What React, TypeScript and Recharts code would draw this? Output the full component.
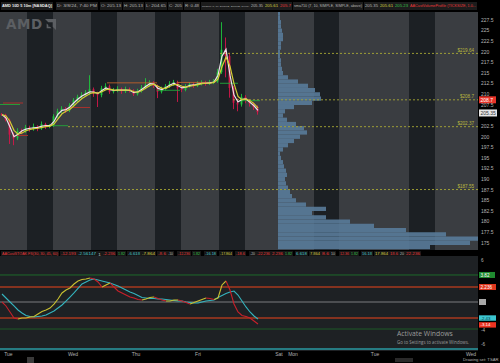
import React from 'react';
import { ComposedChart, Line, Bar, XAxis, YAxis, ReferenceArea, ReferenceLine } from 'recharts';

// ---------- time grid (session hours, 4px per unit) ----------
const barTimes: number[] = Array.from({ length: 65 }, (_, k) => 0.5 + k);

// ---------- price candles ----------
const opens = [205.4,205.2,204.0,200.5,199.6,201.4,201.2,202.2,201.8,202.4,201.9,203.0,202.4,202.6,204.8,206.0,206.6,206.2,207.4,208.6,209.4,209.9,210.4,211.2,210.2,209.8,211.4,211.9,210.6,210.9,211.3,210.7,211.2,210.9,210.0,210.8,211.6,212.3,212.8,212.0,210.6,211.2,211.9,212.5,212.9,211.4,211.0,211.9,212.4,212.0,212.6,212.8,212.6,212.9,213.0,215.2,220.5,219.0,211.5,208.0,207.6,209.4,208.6,207.8,207.0];
const closes = [205.2,204.0,200.5,199.6,201.4,201.2,202.2,201.8,202.4,201.9,203.0,202.4,202.6,204.8,206.0,206.6,206.2,207.4,208.6,209.4,209.9,210.4,211.2,210.2,209.8,211.4,211.9,210.6,210.9,211.3,210.7,211.2,210.9,210.0,210.8,211.6,212.3,212.8,212.0,210.6,211.2,211.9,212.5,212.9,211.4,211.0,211.9,212.4,212.0,212.6,212.8,212.6,212.9,213.0,215.2,220.5,219.0,211.5,208.0,207.6,209.4,208.6,207.8,207.0,205.8];
const highs = [205.6,205.4,204.3,201.0,202.0,201.9,202.8,202.6,203.1,202.7,203.6,203.3,203.0,205.3,206.6,207.2,207.0,207.9,209.1,209.9,210.5,211.0,214.5,211.6,210.6,212.0,212.6,212.3,211.5,211.9,211.6,211.8,211.6,211.2,211.3,212.2,213.8,213.3,213.1,212.3,211.8,212.4,213.1,213.4,213.2,211.8,212.4,212.9,212.8,213.1,213.3,213.2,213.4,213.6,216.0,227.0,223.4,219.8,212.0,209.0,210.1,209.8,208.9,208.1,207.4];
const lows = [204.9,203.6,198.3,198.0,199.2,200.6,200.9,201.2,201.4,201.3,201.6,201.8,202.0,202.3,204.4,205.6,205.6,205.8,207.0,208.2,209.1,209.6,209.8,209.4,207.0,209.3,211.0,210.1,210.2,210.5,210.1,210.3,210.4,209.6,209.7,210.4,211.2,211.8,211.5,209.1,210.2,210.9,211.5,212.0,208.2,210.5,210.7,211.6,211.5,211.7,212.1,212.0,212.2,212.4,212.7,214.8,214.0,209.2,206.5,206.0,207.1,207.9,207.1,206.3,205.2];
const smaFast = [205.2,204.4,202.3,200.0,200.6,201.4,201.8,202.0,202.1,202.2,202.5,202.6,202.6,203.6,205.3,206.2,206.4,207.0,208.0,208.9,209.6,210.1,210.6,210.5,210.2,210.9,211.5,211.1,210.9,211.0,211.0,211.0,210.9,210.4,210.6,211.2,211.9,212.5,212.4,211.4,211.1,211.6,212.2,212.6,212.0,211.5,211.7,212.1,212.2,212.4,212.6,212.6,212.7,212.9,214.5,219.0,220.6,214.5,209.8,208.2,208.8,208.9,208.1,207.3,206.2];
const smaSlow = [205.2,204.9,203.6,201.5,200.6,200.9,201.4,201.7,201.9,202.0,202.2,202.4,202.5,203.0,204.2,205.4,206.0,206.5,207.3,208.2,209.0,209.6,210.2,210.4,210.3,210.6,211.1,211.2,211.0,211.0,211.0,211.0,211.0,210.6,210.5,210.9,211.5,212.1,212.4,211.9,211.4,211.4,211.9,212.3,212.3,211.9,211.7,211.9,212.1,212.3,212.5,212.6,212.6,212.8,213.6,216.5,218.8,216.6,212.5,209.5,208.7,208.9,208.5,207.8,206.8];

// ---------- oscillator ----------
const oscFast = [0,-0.57,-1.43,-2.29,-2.43,-2.29,-2.29,-2.14,-2.07,-1.71,-1.36,-1.14,-0.86,-0.29,0.43,1.29,1.71,2.0,2.57,3.0,3.21,3.29,3.43,3.29,2.86,2.14,2.43,2.71,2.14,1.57,1.29,1.0,0.71,0.57,0.36,0.29,0.43,0.64,0.71,0.5,0.29,0.14,0.14,0.29,0.29,0.14,-0.07,-0.29,-0.07,0.14,0.36,0.57,0.5,0.36,0.57,2.43,3.0,1.71,-0.29,-1.43,-1.93,-2.07,-2.29,-2.71,-3.14];
const oscSlow = [1.14,0.57,0,-0.57,-1.14,-1.57,-1.93,-2.07,-2.14,-2.07,-2.0,-1.86,-1.57,-1.29,-0.86,-0.43,0.14,0.71,1.29,1.93,2.57,2.86,3.14,3.29,3.14,3.0,2.86,2.71,2.5,2.29,2.0,1.71,1.43,1.21,0.93,0.64,0.57,0.5,0.5,0.43,0.43,0.36,0.29,0.21,0.14,0.14,0,-0.07,-0.14,-0.14,0,0.14,0.21,0.29,0.64,0.93,1.21,1.43,1.57,1.0,0.14,-0.71,-1.43,-2.0,-2.43];

// ---------- volume profile (1-dollar bins, % of widest level) ----------
const profilePrices = [229,228,227,226,225,224,223,222,221,220,219,218,217,216,215,214,213,212,211,210,209,208,207,206,205,204,203,202,201,200,199,198,197,196,195,194,193,192,191,190,189,188,187,186,185,184,183,182,181,180,179,178,177,176,175,174];
const profileVols = [1,1,1.5,1.5,2,2.5,2.5,1.5,1.5,1,1,1.5,1.5,2,2.5,5,10,15,18.5,21,21.5,17,8,3.5,2.5,4.5,9,13,14.5,11,8,5,2.5,1,1.5,2.5,3,4,4.5,3.5,4,5,6,7,9,14,24,17,24,36,48,64,84,100,96,76];
const PROFILE_BASE = 69.5;   // session-hour where the profile is anchored
const PROFILE_SPAN = 50;     // session-hours covered by a 100% level

// ---------- sessions & ticks ----------
const sessionBounds = [0,6.75,13.25,22.75,29.25,38.75,45.25,54.75,61.25,78.5,84.75,102.25,108.75,119.5];
const priceTicks = [175,177.5,180,182.5,185,187.5,190,192.5,195,197.5,200,202.5,207.5,210,212.5,215,217.5,220,222.5,225,227.5];
const oscTicks = [6,-4,-6];
const dayTicks = [2.1,18.25,34,49.5,69.75,73.25,93.75,117.75];
const dayLabels = ['Tue','Wed','Thu','Fri','Sat','Mon','Tue','Wed'];

// levels
const dashedLevels = [219.64, 208.7, 202.37, 187.55];
const dashedLabels = ['$219.64', '$208.7', '$202.37', '$187.55'];
const dashedStarts = [55, 58.25, 17, 0];

const markerLevels = [207.6, 207.95, 200.3, 202.6, 206.9, 212.7, 210.95, 212.8, 212.6, 208.5];
const markerFrom = [0, 0.75, 3.5, 12.5, 17, 26.75, 39.25, 44.25, 55, 60];
const markerTo = [5, 5.75, 7, 17, 22.5, 39.25, 45, 53.25, 59.5, 65];
const markerKinds = ['g', 'r', 'r', 'g', 'r', 'o', 'g', 'o', 'g', 'g'];

// header texts
const topHeader = ['AMD 10D 5 10m [NASDAQ]','D: 3/8/24, 7:40 PM','O: 205.13','H: 205.13','L: 204.65','C: 205','R: 0.48','sma710 (7, 10, SIMPLE, SIMPLE, below)','205.35','205.61','205.7','sma710 (7, 10, SIMPLE, SIMPLE, above)','205.35','205.61','205.23','AACustVolumeProfile (TICKSIZE, 1.0...'];
const topHeaderKinds = ['w','n','n','n','n','n','n','n','n','y','r','n','n','y','g','r'];
const topHeaderFrom = [2,57,101,124,146,169,185,202,251,265,280,294,365,380,395,410];
const topHeaderTo = [52,97,121,143,166,182,199,249,263,278,291,362,378,393,408,476];

const lowHeader = ['AACustSTOAK FS(30, 30, 45, 60)','-12.193','-2.56147','1','-2.236','1.82','-6.618','-7.864','-8.6','-10','-12.236','1.82','-16.18','-17.864','-18.6','-20','-22.236','2.236','1.82','6.618','7.864','8.6','10','12.36','1.82','16.18','17.864','18.6','20','22.236'];
const lowHeaderKinds = ['r','r','c','n','r','g','c','y','r','n','r','g','c','y','r','n','r','r','g','c','y','r','n','r','g','c','y','r','n','r'];
const lowHeaderFrom = [2,61,78,98,103,118,128,142,158,168,178,193,205,220,236,250,257,272,285,296,310,322,331,340,351,362,375,390,400,406];
const lowHeaderTo = [58,76,96,101,115,125,140,155,166,173,190,200,216,232,245,255,270,283,292,307,320,329,335,349,358,372,388,398,404,420];

const COL: Record<string, string> = {
  w: '#ededed', n: '#b8b8b8', y: '#d8d040', r: '#e8383a', g: '#35c04a', c: '#45c8d2', o: '#c8642a',
};
const MARK: Record<string, string> = { g: '#23a83a', r: '#b8302a', o: '#c0602a' };

const FONT = '"Liberation Sans", "DejaVu Sans", Arial, sans-serif';

const priceData = barTimes.map((t, i) => ({
  t,
  o: opens[i],
  h: highs[i],
  l: lows[i],
  c: closes[i],
  range: [lows[i], highs[i]],
  fast: smaFast[i],
  slow: smaSlow[i],
}));

const oscData = barTimes.map((t, i) => {
  const prevUp = i > 0 && oscFast[i] >= oscFast[i - 1];
  const nextUp = i < oscFast.length - 1 && oscFast[i + 1] >= oscFast[i];
  const prevDn = i > 0 && oscFast[i] < oscFast[i - 1];
  const nextDn = i < oscFast.length - 1 && oscFast[i + 1] < oscFast[i];
  return {
    t,
    slow: oscSlow[i],
    up: prevUp || nextUp ? oscFast[i] : null,
    dn: prevDn || nextDn ? oscFast[i] : null,
  };
});

const Candle = (props: any) => {
  const { x, y, width, height, payload } = props;
  if (x == null || y == null || !payload) return null;
  const top = Math.min(y, y + height);
  const h = Math.abs(height);
  const span = payload.h - payload.l || 1;
  const yOf = (v: number) => top + ((payload.h - v) / span) * h;
  const cx = x + width / 2;
  const up = payload.c >= payload.o;
  const col = up ? '#1ec43c' : '#d4164a';
  const b1 = yOf(Math.max(payload.o, payload.c));
  const b2 = yOf(Math.min(payload.o, payload.c));
  return (
    <g>
      <line x1={cx} x2={cx} y1={top} y2={top + h} stroke={col} strokeWidth={0.9} />
      <rect x={cx - 0.9} y={b1} width={1.8} height={Math.max(0.8, b2 - b1)} fill={col} />
    </g>
  );
};

const AxisBox = (props: any) => {
  const { viewBox, text, bg, color, w, bh, fs } = props;
  if (!viewBox) return null;
  const x = viewBox.x + viewBox.width + 1;
  const y = viewBox.y;
  const hh = bh || 7;
  const f = fs || 5;
  return (
    <g>
      <rect x={x} y={y - hh / 2} width={w || 18} height={hh} fill={bg} />
      {text ? <text x={x + 1.5} y={y + f * 0.36} fontSize={f} fill={color} fontFamily={FONT}>{text}</text> : null}
    </g>
  );
};

const LevelLabel = (props: any) => {
  const { viewBox, text } = props;
  if (!viewBox) return null;
  return (
    <text x={viewBox.x + viewBox.width - 4} y={viewBox.y - 1.5} fontSize={4.6} fill="#b8b640" textAnchor="end" fontFamily={FONT}>{text}</text>
  );
};

const HeaderRow = ({ texts, kinds, from, to, top, h, fs, bg }: any) => (
  <svg width={500} height={h + 2} style={{ position: 'absolute', left: 0, top }}>
    {texts.map((s: string, i: number) => {
      const w = to[i] - from[i];
      const size = Math.min(fs, w / (s.length * 0.58));
      return (
        <g key={i}>
          <rect x={from[i] - 1} y={1} width={w + 2} height={h} fill={bg} />
          <text x={from[i]} y={1 + h / 2 + size * 0.36} fontSize={size} fill={COL[kinds[i]]} fontFamily={FONT} fontWeight={i === 0 && kinds[i] === 'w' ? 700 : 400} textLength={w} lengthAdjust="spacingAndGlyphs">{s}</text>
        </g>
      );
    })}
  </svg>
);

const stripes = sessionBounds.slice(0, -1).map((s, i) => ({ x1: s, x2: sessionBounds[i + 1], dark: i % 2 === 1 }));

export default function App() {
  return (
    <div style={{ position: 'fixed', left: 0, top: 0, width: 500, height: 363, background: '#000', overflow: 'hidden', fontFamily: FONT }}>
      <HeaderRow texts={topHeader} kinds={topHeaderKinds} from={topHeaderFrom} to={topHeaderTo} top={1} h={8} fs={5} bg="#1c1c1c" />

      {/* price pane */}
      <div style={{ position: 'absolute', left: 0, top: 12 }}>
        <ComposedChart width={500} height={238} data={priceData} margin={{ top: 0, right: 0, bottom: 0, left: 0 }}>
          <XAxis type="number" dataKey="t" domain={[0, 119.5]} hide allowDataOverflow />
          <YAxis orientation="right" type="number" domain={[173.3, 229.4]} ticks={priceTicks} width={22} tick={{ fill: '#b4b4b4', fontSize: 5, fontFamily: FONT }} tickLine={false} axisLine={false} tickSize={0} tickMargin={3} allowDataOverflow interval={0} />
          {stripes.map((s, i) => (
            <ReferenceArea key={'st' + i} x1={s.x1} x2={s.x2} fill={s.dark ? '#1c2024' : '#3a3d41'} fillOpacity={1} stroke="none" ifOverflow="hidden" />
          ))}
          {profilePrices.map((p, i) => (
            <ReferenceArea key={'vp' + i} x1={PROFILE_BASE} x2={PROFILE_BASE + (profileVols[i] / 100) * PROFILE_SPAN} y1={p - 0.5} y2={p + 0.5} fill="#587a98" fillOpacity={0.92} stroke="none" ifOverflow="hidden" />
          ))}
          {dashedLevels.map((v, i) => (
            <ReferenceLine key={'dl' + i} segment={[{ x: dashedStarts[i], y: v }, { x: 119.5, y: v }]} stroke="#a8a834" strokeDasharray="2 2" strokeWidth={0.9} label={<LevelLabel text={dashedLabels[i]} />} ifOverflow="hidden" />
          ))}
          {markerLevels.map((v, i) => (
            <ReferenceLine key={'mk' + i} segment={[{ x: markerFrom[i], y: v }, { x: markerTo[i], y: v }]} stroke={MARK[markerKinds[i]]} strokeWidth={0.9} ifOverflow="hidden" />
          ))}
          <Bar dataKey="range" barSize={3} isAnimationActive={false} shape={(p: any) => <Candle {...p} />} />
          <Line dataKey="fast" stroke="#efe2ea" strokeWidth={1.2} dot={false} isAnimationActive={false} />
          <Line dataKey="slow" stroke="#d2cc34" strokeWidth={1.2} dot={false} isAnimationActive={false} />
          <ReferenceLine y={208.7} stroke="none" ifOverflow="visible" label={<AxisBox text="208.7" bg="#e8342a" color="#ffffff" w={17} />} />
          <ReferenceLine y={205.6} stroke="none" ifOverflow="visible" label={<AxisBox text="205.35" bg="#e6e6e6" color="#333" w={18} />} />
        </ComposedChart>
      </div>

      {/* AMD watermark */}
      <div style={{ position: 'absolute', left: 6, top: 16, fontSize: 13.5, fontWeight: 700, color: '#5c5f63', letterSpacing: 0.5, pointerEvents: 'none', fontFamily: '"DejaVu Sans", sans-serif' }}>
        AMD
        <svg width={11} height={11} viewBox="0 0 10 10" style={{ marginLeft: 2, verticalAlign: '-1px' }}>
          <path d="M0 0 H10 V10 L7 7 V3 H3 Z M1.5 4 L3 5.5 V7 H4.5 L6 8.5 H1.5 Z" fill="#5c5f63" />
        </svg>
      </div>

      <HeaderRow texts={lowHeader} kinds={lowHeaderKinds} from={lowHeaderFrom} to={lowHeaderTo} top={250} h={6} fs={4.4} bg="#171717" />

      {/* oscillator pane */}
      <div style={{ position: 'absolute', left: 0, top: 256 }}>
        <ComposedChart width={500} height={107} data={oscData} margin={{ top: 0, right: 0, bottom: 0, left: 0 }}>
          <XAxis type="number" dataKey="t" domain={[0, 119.5]} ticks={dayTicks} interval={0} tickFormatter={(v: number) => dayLabels[dayTicks.indexOf(v)] || ''} height={12} tick={{ fill: '#b0b0b0', fontSize: 5, fontFamily: FONT }} tickLine={false} axisLine={false} tickSize={0} tickMargin={1} allowDataOverflow />
          <YAxis orientation="right" type="number" domain={[-7, 6.57]} ticks={oscTicks} interval={0} width={22} tick={{ fill: '#b4b4b4', fontSize: 4.6, fontFamily: FONT }} tickLine={false} axisLine={false} tickSize={0} tickMargin={3} allowDataOverflow />
          <ReferenceArea x1={0} x2={119.5} fill="#1e2124" fillOpacity={1} stroke="none" ifOverflow="hidden" />
          <ReferenceLine y={3.86} stroke="#1e6a2a" strokeWidth={1} label={<AxisBox text="3.82" bg="#1f8a30" color="#fff" w={16} bh={6} fs={4.6} />} />
          <ReferenceLine y={2.14} stroke="#a8381e" strokeWidth={1.5} label={<AxisBox text="2.236" bg="#e0381e" color="#fff" w={17} bh={6} fs={4.6} />} />
          <ReferenceLine y={0} stroke="#5c5e60" strokeWidth={1.5} label={<AxisBox text="" bg="#a8a8a8" color="#333" w={7} bh={6} />} />
          <ReferenceLine y={-2.29} stroke="#a8381e" strokeWidth={1.5} />
          <ReferenceLine y={-3.86} stroke="#1e5a28" strokeWidth={1} />
          <ReferenceLine y={-6.71} stroke="#2a9aa2" strokeWidth={1.5} />
          <Line dataKey="slow" stroke="#34b4be" strokeWidth={1.1} dot={false} isAnimationActive={false} />
          <Line dataKey="up" stroke="#c8c030" strokeWidth={1.1} dot={false} connectNulls={false} isAnimationActive={false} />
          <Line dataKey="dn" stroke="#c8202a" strokeWidth={1.1} dot={false} connectNulls={false} isAnimationActive={false} />
          <ReferenceLine y={-2.29} stroke="none" ifOverflow="visible" label={<AxisBox text="-2.43" bg="#3cc6d0" color="#0b3a3c" w={17} bh={5.4} fs={4.4} />} />
          <ReferenceLine y={-3.27} stroke="none" ifOverflow="visible" label={<AxisBox text="-3.14" bg="#ee3322" color="#fff" w={17} bh={5.4} fs={4.4} />} />
        </ComposedChart>
      </div>

      {/* watermark & status */}
      <div style={{ position: 'absolute', left: 397, top: 329, fontSize: 6.8, color: '#9c9c9c', fontFamily: '"Open Sans", "Noto Sans", sans-serif', whiteSpace: 'nowrap', pointerEvents: 'none' }}>Activate Windows</div>
      <div style={{ position: 'absolute', left: 397, top: 339, fontSize: 4.4, color: '#9c9c9c', fontFamily: '"Open Sans", "Noto Sans", sans-serif', whiteSpace: 'nowrap', pointerEvents: 'none' }}>Go to Settings to activate Windows.</div>
      <div style={{ position: 'absolute', left: 27, top: 357, width: 7, height: 6, background: '#3a3a3a' }} />
      <div style={{ position: 'absolute', left: 395, top: 358, width: 18, height: 4, background: '#2a2a2a' }} />
      <div style={{ position: 'absolute', left: 463, top: 357, fontSize: 4.2, color: '#b0b0b0', whiteSpace: 'nowrap' }}>Drawing set: TSAR</div>
    </div>
  );
}
